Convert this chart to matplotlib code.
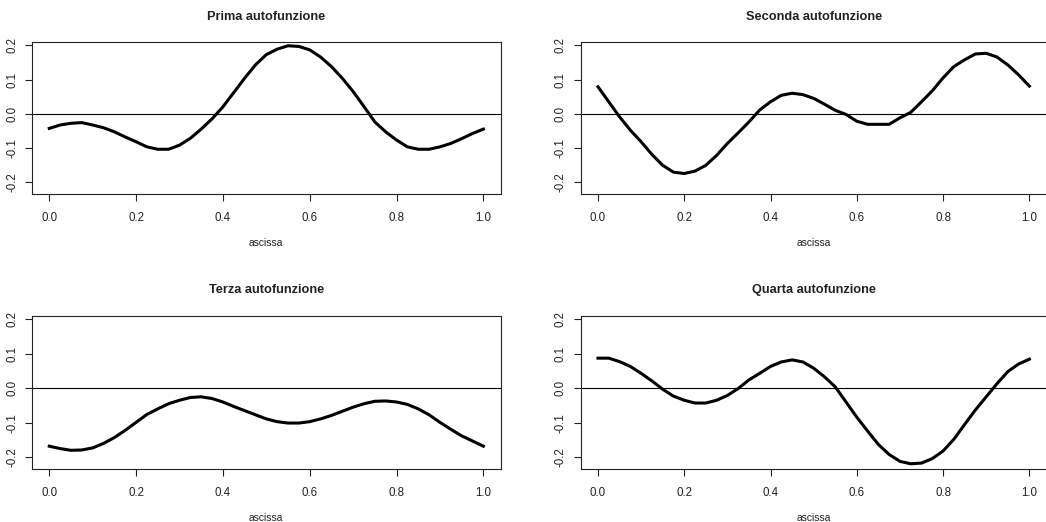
import matplotlib
matplotlib.use("Agg")
import matplotlib.pyplot as plt

plt.rcParams["font.family"] = ["Liberation Sans", "DejaVu Sans"]

# ascissa comune a tutte le autofunzioni (passo 0.025)
x = [i / 40 for i in range(41)]

prima = [-0.043, -0.033, -0.028, -0.026, -0.033, -0.041, -0.053, -0.068, -0.082, -0.097,
         -0.104, -0.104, -0.092, -0.072, -0.045, -0.015, 0.020, 0.062, 0.104, 0.143,
         0.173, 0.189, 0.199, 0.197, 0.187, 0.166, 0.138, 0.104, 0.065, 0.021,
         -0.024, -0.053, -0.077, -0.097, -0.104, -0.104, -0.097, -0.087, -0.073, -0.058,
         -0.045]
seconda = [0.079, 0.035, -0.009, -0.048, -0.082, -0.119, -0.151, -0.171, -0.175, -0.168,
           -0.151, -0.122, -0.087, -0.056, -0.024, 0.011, 0.035, 0.054, 0.060, 0.056,
           0.045, 0.028, 0.010, -0.002, -0.022, -0.031, -0.031, -0.031, -0.012, 0.004,
           0.035, 0.067, 0.105, 0.138, 0.158, 0.175, 0.177, 0.166, 0.143, 0.114,
           0.081]
terza = [-0.168, -0.175, -0.180, -0.179, -0.173, -0.160, -0.143, -0.122, -0.099, -0.076,
         -0.060, -0.045, -0.035, -0.027, -0.025, -0.030, -0.040, -0.053, -0.065, -0.077,
         -0.089, -0.097, -0.101, -0.101, -0.097, -0.089, -0.079, -0.067, -0.055, -0.045,
         -0.038, -0.037, -0.040, -0.047, -0.060, -0.077, -0.099, -0.119, -0.138, -0.153,
         -0.168]
quarta = [0.087, 0.087, 0.077, 0.063, 0.043, 0.021, -0.003, -0.023, -0.035, -0.043,
          -0.043, -0.035, -0.021, -0.001, 0.024, 0.043, 0.063, 0.076, 0.082, 0.076,
          0.058, 0.033, 0.004, -0.040, -0.084, -0.124, -0.163, -0.192, -0.212, -0.219,
          -0.217, -0.204, -0.182, -0.148, -0.105, -0.063, -0.025, 0.013, 0.048, 0.070,
          0.084]

titoli = ["Prima autofunzione", "Seconda autofunzione",
          "Terza autofunzione", "Quarta autofunzione"]
serie = [prima, seconda, terza, quarta]
xticks = [0.0, 0.2, 0.4, 0.6, 0.8, 1.0]
yticks = [-0.2, -0.1, 0.0, 0.1, 0.2]

W, H = 1046, 522
fig = plt.figure(figsize=(W / 100, H / 100), dpi=100)

# riquadri in pixel: (sinistra, destra, alto, basso)
boxes = [(31.9, 500.7, 42, 194), (580.7, 1046.6, 42, 194),
         (31.9, 500.7, 315.7, 469.3), (580.7, 1046.6, 315.7, 469.3)]

for (l, r, t, b), titolo, y in zip(boxes, titoli, serie):
    ax = fig.add_axes([l / W, 1 - b / H, (r - l) / W, (b - t) / H])
    ax.plot(x, y, color="black", lw=2.2, solid_joinstyle="round")
    ax.axhline(0, color="black", lw=0.8)
    ax.set_xlim(-0.04, 1.04)
    ax.set_ylim(-0.235, 0.21)
    ax.set_xticks(xticks)
    ax.set_xticklabels(["%.1f" % v for v in xticks])
    ax.set_yticks(yticks)
    ax.set_yticklabels(["%.1f" % v for v in yticks], rotation=90, va="center")
    ax.tick_params(direction="out", length=5, width=0.8, labelsize=8.3,
                   colors="#222222")
    ax.tick_params(axis="x", pad=8)
    ax.tick_params(axis="y", pad=5)
    for s in ax.spines.values():
        s.set_linewidth(0.8)
        s.set_color("#222222")
    ax.set_title(titolo, fontsize=9.2, fontweight="bold", pad=16, color="#222222")
    ax.set_xlabel("ascissa", fontsize=7.4, labelpad=10, color="#222222")

fig.savefig("out.png", dpi=100)
